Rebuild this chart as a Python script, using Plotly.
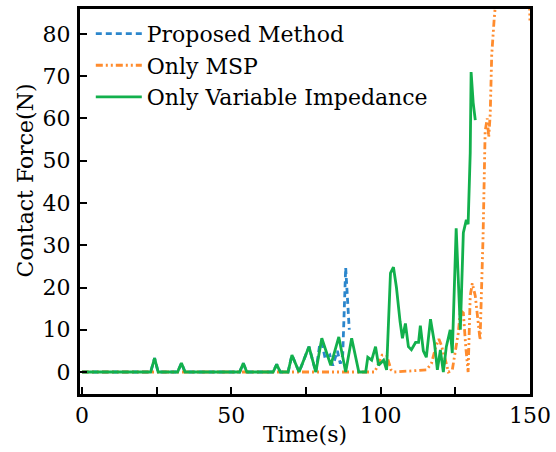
import plotly.graph_objs as go

# Proposed Method (mostly hidden under the green line)
t_proposed = [0, 23, 24.3, 25.5, 32, 33.3, 34.5, 52.8, 54, 55.2, 64, 65.2, 66.4, 69, 70.3, 72.7, 76, 78.3,
              79.5, 80.3, 81.5, 83, 84, 85.5, 86.5, 87.3, 88.3, 89.5]
f_proposed = [0, 0, 3.3, 0, 0, 2.1, 0, 0, 2.1, 0, 0, 1.8, 0, 0, 4, 0, 6, 0,
              6, 7, 3, 4, 1.5, 5, 2, 4, 24.7, 10]

# Only MSP
t_msp = [0, 98, 99.3, 100.5, 102, 103.5, 104.5, 115.3, 117, 118.5, 119.5, 120.3, 121.7, 122.7, 124, 125, 126,
         126.7, 127.7, 128.5, 129.3, 130, 130.7, 131.7, 132.5, 133.3, 134.3, 135, 135.7, 136.2, 136.7, 137.2,
         138, 140, 149.5, 150]
f_msp = [0, 0, 2, 4, 4, 0.5, 0, 0.5, 2, 6, 7.8, 6.4, 2.8, 0, 0.5, 4.5, 9.2,
         14.6, 14, 6, 0, 18, 21, 18, 12, 7.6, 32, 57, 60, 55.6, 61, 75,
         83.3, 100, 100, 83]

# Only Variable Impedance
t_vi = [0, 23, 24.3, 25.5, 32, 33.3, 34.5, 52.8, 54, 55.2, 64, 65.2, 66.4, 69, 70.3, 72.7, 76, 78.3, 80.3,
        83.3, 86, 88.3, 90.3, 92.7, 95, 95.7, 97, 98.3, 99.3, 101, 102, 103.3, 104.3, 105.3, 106.5, 107.3,
        108.3, 109.3, 110.3, 111.7, 112.7, 113.3, 114.3, 115.3, 116.7, 118, 119, 120, 121, 122, 123.3, 124,
        125.3, 126.7, 127.7, 128.7, 129.3, 130, 130.3, 131, 131.7]
f_vi = [0, 0, 3.3, 0, 0, 2.1, 0, 0, 2.1, 0, 0, 1.8, 0, 0, 4, 0, 6, 0, 8,
        1.6, 8.3, 0, 8, 0, 0, 3.5, 2.8, 6, 1.6, 2.8, 0.5, 23.4, 24.8, 20, 12, 8,
        11.5, 6, 5.3, 7, 7, 11, 5, 3.5, 12.5, 7, 0.5, 5.2, 0, 6, 10, 4.5,
        34, 10, 33, 36, 35, 51.8, 71, 63.7, 59.6]

x_ticks = [0, 50, 100, 150]
y_ticks = [0, 10, 20, 30, 40, 50, 60, 70, 80]

FONT = 'DejaVu Serif'
SIZE = 22

charts = [
    go.Scatter(x=t_proposed, y=f_proposed, mode='lines', name='Proposed Method', legendgroup='a',
               line=dict(color='#2b86cc', width=2.8, dash='6px,4px')),
    go.Scatter(x=t_msp, y=f_msp, mode='lines', name='Only MSP', legendgroup='b',
               line=dict(color='#ff8c2e', width=2.8, dash='7px,3px,2px,3px,2px,3px')),
    go.Scatter(x=t_vi, y=f_vi, mode='lines', name='Only Variable Impedance', legendgroup='c',
               line=dict(color='#12b04c', width=2.8)),
]

axis_common = dict(
    showgrid=False, zeroline=False, showline=True, linecolor='black', linewidth=3, mirror=True,
    ticks='inside', ticklen=7, tickwidth=2, tickcolor='black', automargin=False,
    tickfont=dict(family=FONT, size=SIZE, color='black'),
)

figure = go.Figure(data=charts, layout=go.Layout({
    'width': 556,
    'height': 452,
    'margin': dict(l=80, r=26, t=9, b=58, autoexpand=False),
    'paper_bgcolor': 'white',
    'plot_bgcolor': 'white',
    'font': dict(family=FONT, size=SIZE, color='black'),
    'legend': dict(x=0.024, y=0.99, xanchor='left', yanchor='top', bgcolor='rgba(0,0,0,0)',
                   font=dict(family=FONT, size=22), tracegroupgap=0, itemwidth=46),
    'xaxis': dict(axis_common, range=[-0.67, 150.02], tickvals=x_ticks, ticklabelstandoff=0,
                  minor=dict(dtick=25, tick0=0, ticks='inside', ticklen=7, tickwidth=2, tickcolor='black'),
                  title=dict(text='Time(s)', standoff=0, font=dict(family=FONT, size=SIZE))),
    'yaxis': dict(axis_common, range=[-5.2, 85.9], tickvals=y_ticks, ticklabelstandoff=2),
}))

# y title placed a little above the axis centre, as in the reference
figure.add_annotation(
    text='Contact Force(N)', textangle=-90, showarrow=False,
    xref='paper', yref='paper', x=-0.122, y=0.555, xanchor='center', yanchor='middle',
    font=dict(family=FONT, size=SIZE, color='black'),
)

# drop the default 8px page margin so the 556x452 figure fills the window exactly
figure.write_html("out.html", config={'displayModeBar': False},
                  post_script="document.body.style.margin='0';document.body.style.overflow='hidden';")
